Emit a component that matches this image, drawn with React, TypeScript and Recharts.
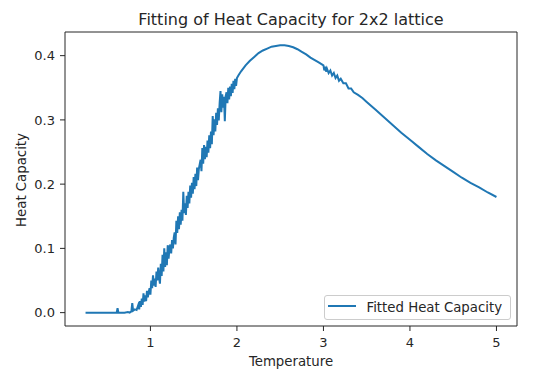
import React from 'react';
import { LineChart, Line, XAxis, YAxis } from 'recharts';

const title = 'Fitting of Heat Capacity for 2x2 lattice';
const xLabel = 'Temperature';
const yLabel = 'Heat Capacity';
const seriesName = 'Fitted Heat Capacity';

const xTicks = [1, 2, 3, 4, 5];
const yTicks = [0, 0.1, 0.2, 0.3, 0.4];
const xDomain = [0.0125, 5.2375];
const yDomain = [-0.0208, 0.4368];

const temperature = [
  0.25, 0.4, 0.55, 0.61, 0.62, 0.63, 0.7, 0.74, 0.76, 0.78, 0.79, 0.8, 0.82, 0.84, 0.86, 0.87, 0.88, 0.89,
  0.9, 0.91, 0.92, 0.93, 0.94, 0.95, 0.96, 0.97, 0.98, 0.99, 1.0, 1.01, 1.02, 1.03, 1.04, 1.05, 1.06, 1.07,
  1.08, 1.09, 1.1, 1.11, 1.12, 1.13, 1.14, 1.15, 1.16, 1.17, 1.18, 1.19, 1.2, 1.21, 1.22, 1.23, 1.24, 1.25,
  1.26, 1.27, 1.28, 1.29, 1.3, 1.31, 1.32, 1.33, 1.34, 1.35, 1.36, 1.37, 1.38, 1.39, 1.4, 1.41, 1.42, 1.43,
  1.44, 1.45, 1.46, 1.47, 1.48, 1.49, 1.5, 1.51, 1.52, 1.53, 1.54, 1.55, 1.56, 1.57, 1.58, 1.59, 1.6, 1.61,
  1.62, 1.63, 1.64, 1.65, 1.66, 1.67, 1.68, 1.69, 1.7, 1.71, 1.72, 1.73, 1.74, 1.75, 1.76, 1.77, 1.78, 1.79,
  1.8, 1.81, 1.82, 1.83, 1.84, 1.85, 1.86, 1.87, 1.88, 1.89, 1.9, 1.91, 1.92, 1.93, 1.94, 1.95, 1.96, 1.97,
  1.98, 1.99, 2.0, 2.02, 2.05, 2.1, 2.15, 2.2, 2.25, 2.3, 2.35, 2.4, 2.45, 2.5, 2.55, 2.6, 2.65, 2.7, 2.75,
  2.8, 2.85, 2.9, 2.95, 3.0, 3.01, 3.02, 3.03, 3.04, 3.06, 3.08, 3.1, 3.12, 3.14, 3.16, 3.18, 3.2, 3.23,
  3.26, 3.29, 3.32, 3.35, 3.4, 3.45, 3.5, 3.6, 3.7, 3.8, 3.9, 4.0, 4.1, 4.2, 4.3, 4.4, 4.5, 4.6, 4.7, 4.8,
  4.9, 5.0,
];

const heatCapacity = [
  0, 0, 0, 0, 0.007, 0, 0, 0.001, 0, 0.002, 0.015, 0.003, 0.005, 0.004, 0.012, 0.005, 0.018, 0.009,
  0.022, 0.012, 0.03, 0.017, 0.027, 0.018, 0.034, 0.024, 0.032, 0.038, 0.028, 0.05, 0.038, 0.058, 0.042, 0.053, 0.04, 0.064,
  0.05, 0.07, 0.055, 0.045, 0.076, 0.057, 0.09, 0.064, 0.1, 0.071, 0.094, 0.074, 0.105, 0.084, 0.1, 0.106, 0.092, 0.113,
  0.1, 0.117, 0.125, 0.106, 0.143, 0.124, 0.15, 0.13, 0.156, 0.137, 0.16, 0.143, 0.188, 0.155, 0.17, 0.152, 0.182, 0.163,
  0.188, 0.17, 0.198, 0.179, 0.202, 0.185, 0.211, 0.192, 0.216, 0.197, 0.226, 0.206, 0.224, 0.231, 0.238, 0.22, 0.256, 0.232,
  0.261, 0.239, 0.258, 0.242, 0.268, 0.249, 0.276, 0.256, 0.282, 0.262, 0.306, 0.276, 0.301, 0.282, 0.311, 0.292, 0.318, 0.299,
  0.326, 0.345, 0.312, 0.34, 0.319, 0.336, 0.298, 0.337, 0.343, 0.326, 0.35, 0.332, 0.352, 0.337, 0.356, 0.342, 0.361, 0.348,
  0.364, 0.353, 0.365, 0.37, 0.376, 0.385, 0.392, 0.398, 0.404, 0.408, 0.411, 0.414, 0.415, 0.416, 0.416, 0.415, 0.413, 0.41, 0.406,
  0.402, 0.397, 0.393, 0.389, 0.385, 0.377, 0.383, 0.375, 0.38, 0.373, 0.377, 0.369, 0.373, 0.365, 0.369, 0.361, 0.364, 0.357,
  0.357, 0.349, 0.349, 0.343, 0.339, 0.334, 0.328, 0.316, 0.304, 0.292, 0.28, 0.269, 0.258, 0.247, 0.237, 0.228, 0.219, 0.21, 0.202, 0.195,
  0.187, 0.18,
];

const data = temperature.map((t, i) => ({ t, c: heatCapacity[i] }));

const FONT = '"DejaVu Sans", sans-serif';
const TEXT = '#262626';
const AXIS = '#262626';
const BLUE = '#1f77b4';

export default function App() {
  const tickStyle = { fontSize: 13, fill: TEXT, fontFamily: FONT };
  return (
    <div style={{ position: 'absolute', left: 0, top: 0, width: 539, height: 378, background: '#fff' }}>
      <LineChart
        width={539}
        height={378}
        data={data}
        margin={{ top: 31, right: 21, bottom: 0, left: 0 }}
      >
        <XAxis
          dataKey="t"
          type="number"
          domain={xDomain}
          ticks={xTicks}
          allowDataOverflow
          height={52}
          tickSize={5}
          tickMargin={7}
          tick={tickStyle}
          stroke={AXIS}
          tickLine={{ stroke: AXIS }}
          axisLine={{ stroke: AXIS }}
          tickFormatter={(v: number) => String(v)}
        />
        <XAxis
          xAxisId="top"
          dataKey="t"
          orientation="top"
          type="number"
          domain={xDomain}
          ticks={xTicks}
          allowDataOverflow
          height={1}
          tick={false}
          tickLine={false}
          stroke={AXIS}
          axisLine={{ stroke: AXIS }}
        />
        <YAxis
          type="number"
          domain={yDomain}
          ticks={yTicks}
          allowDataOverflow
          width={65}
          tickSize={5}
          tickMargin={5}
          tick={tickStyle}
          stroke={AXIS}
          tickLine={{ stroke: AXIS }}
          axisLine={{ stroke: AXIS }}
          tickFormatter={(v: number) => v.toFixed(1)}
        />
        <YAxis
          yAxisId="right"
          orientation="right"
          type="number"
          domain={yDomain}
          ticks={yTicks}
          allowDataOverflow
          width={1}
          tick={false}
          tickLine={false}
          stroke={AXIS}
          axisLine={{ stroke: AXIS }}
        />
        <Line
          type="linear"
          dataKey="c"
          name={seriesName}
          stroke={BLUE}
          strokeWidth={2}
          dot={false}
          activeDot={false}
          isAnimationActive={false}
        />
      </LineChart>
      <svg
        width={539}
        height={378}
        style={{ position: 'absolute', left: 0, top: 0, pointerEvents: 'none' }}
      >
        <text x={291} y={25} textAnchor="middle" fontSize={16} fill={TEXT} fontFamily={FONT}>
          {title}
        </text>
        <text x={291} y={365.5} textAnchor="middle" fontSize={13.3} fill={TEXT} fontFamily={FONT}>
          {xLabel}
        </text>
        <text
          transform="translate(25.5,180) rotate(-90)"
          textAnchor="middle"
          fontSize={13.3}
          fill={TEXT}
          fontFamily={FONT}
        >
          {yLabel}
        </text>
        <rect x={324.5} y={295.5} width={186} height={24} rx={2.5} fill="#fff" fillOpacity={0.8} stroke="#cccccc" />
        <line x1={328} y1={306} x2={356} y2={306} stroke={BLUE} strokeWidth={2} />
        <text x={366.5} y={312.3} fontSize={13.3} fill={TEXT} fontFamily={FONT}>
          {seriesName}
        </text>
      </svg>
    </div>
  );
}
